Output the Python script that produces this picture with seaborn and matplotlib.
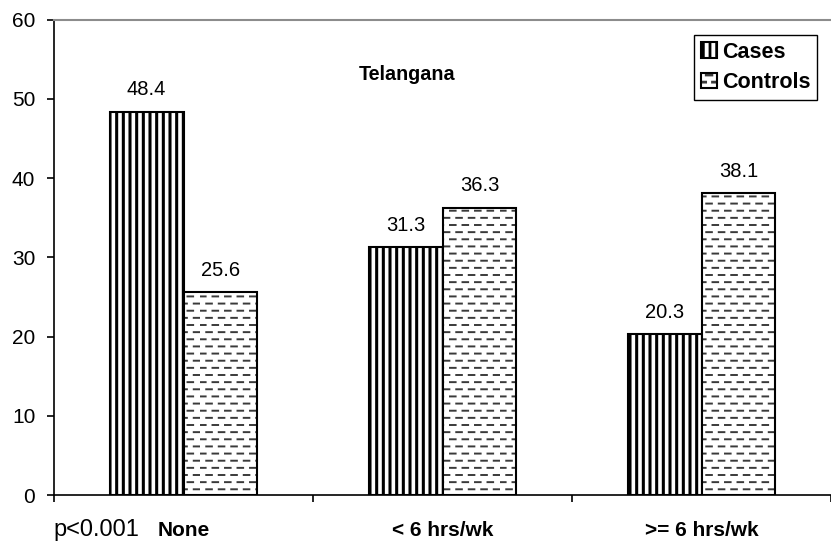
import warnings
import numpy as np
import pandas as pd
import matplotlib
matplotlib.use("Agg")
import matplotlib.pyplot as plt
from matplotlib import hatch as mhatch
from matplotlib.colors import to_rgba
from matplotlib.path import Path
import seaborn as sns

warnings.filterwarnings("ignore")

# Data
categories = ["None", "< 6 hrs/wk", ">= 6 hrs/wk"]
cases = [48.4, 31.3, 20.3]
controls = [25.6, 36.3, 38.1]
groups = ["Cases", "Controls"]


# Excel-like fill patterns: dense vertical stripes ('!') and staggered dashes ('_')
class StripeHatch(mhatch.HatchPatternBase):
    def __init__(self, hatch, density):
        self.num_lines = hatch.count("!") * 15
        self.num_vertices = self.num_lines * 2

    def set_vertices_and_codes(self, vertices, codes):
        xs = (np.arange(self.num_lines) + 0.5) / max(self.num_lines, 1)
        vertices[0::2, 0] = xs
        vertices[0::2, 1] = 0.0
        vertices[1::2, 0] = xs
        vertices[1::2, 1] = 1.0
        codes[0::2] = Path.MOVETO
        codes[1::2] = Path.LINETO


class DashHatch(mhatch.HatchPatternBase):
    def __init__(self, hatch, density):
        self.num_rows = hatch.count("_") * 14
        self.num_dashes = 8
        self.num_vertices = self.num_rows * self.num_dashes * 2

    def set_vertices_and_codes(self, vertices, codes):
        step = 1.0 / self.num_dashes
        k = 0
        for i in range(self.num_rows):
            y = (i + 0.5) / self.num_rows
            shift = step / 2 if i % 2 else 0.0
            for j in range(self.num_dashes):
                x0 = j * step + shift
                vertices[k] = (x0, y)
                vertices[k + 1] = (x0 + step * 0.45, y)
                codes[k] = Path.MOVETO
                codes[k + 1] = Path.LINETO
                k += 2


mhatch._hatch_types.extend([StripeHatch, DashHatch])

df = pd.DataFrame({
    "category": categories * 2,
    "value": cases + controls,
    "group": [groups[0]] * 3 + [groups[1]] * 3,
})

sns.set_style("ticks")
plt.rcParams["font.family"] = ["Liberation Sans", "DejaVu Sans"]
plt.rcParams["text.color"] = "black"
plt.rcParams["xtick.color"] = "black"
plt.rcParams["ytick.color"] = "black"
plt.rcParams["hatch.linewidth"] = 1.8
plt.rcParams["hatch.color"] = "black"

fig = plt.figure(figsize=(8.31, 5.45), dpi=100)
ax = fig.add_axes([0.065, 0.0917, 0.935, 0.872])

sns.barplot(data=df, x="category", y="value", hue="group", order=categories,
            hue_order=groups, palette=["white", "white"], edgecolor="black",
            linewidth=1.5, width=0.571, ax=ax, legend=False)

for cont, h, hlw, hcol in zip(ax.containers, ["!", "_"], [2.2, 1.4],
                              ["black", "#3a3a3a"]):
    for p in cont.patches:
        p.set_hatch(h)
        p.set_edgecolor("black")
        p._hatch_color = to_rgba(hcol)
        if hasattr(p, "set_hatch_linewidth"):
            p.set_hatch_linewidth(hlw)
    ax.bar_label(cont, fmt="%.1f", padding=9, fontsize=14.5)

ax.set_ylim(0, 60)
ax.set_xlim(-0.5, 2.5)
ax.set_yticks(range(0, 61, 10))
ax.tick_params(axis="y", labelsize=15, length=5, width=1.2, pad=8.5)

# boundary tick marks, category labels centred between them
ax.set_xticks([-0.5, 0.5, 1.5, 2.5])
ax.set_xticklabels([])
ax.set_xticks(range(len(categories)), minor=True)
ax.set_xticklabels(categories, minor=True, fontweight="bold", fontsize=15)
ax.tick_params(axis="x", which="major", length=5, width=1.2)
ax.tick_params(axis="x", which="minor", length=0, pad=19)
ax.set_xlabel("")
ax.set_ylabel("")

for s in ["left", "bottom"]:
    ax.spines[s].set_linewidth(1.2)
    ax.spines[s].set_color("black")
ax.spines["right"].set_visible(False)
ax.spines["top"].set_color("#8c8c8c")
ax.spines["top"].set_linewidth(1.5)

ax.text(0.454, 0.884, "Telangana", transform=ax.transAxes, ha="center",
        va="center", fontsize=14.2, fontweight="bold")

leg = ax.legend(ax.containers, groups, loc="upper right",
                bbox_to_anchor=(0.982, 0.968), borderaxespad=0,
                frameon=True, fancybox=False,
                edgecolor="black", framealpha=1, handlelength=0.75,
                handleheight=0.75, handletextpad=0.2, borderpad=0.32,
                labelspacing=0.42, prop={"weight": "bold", "size": 15.5})
leg.get_frame().set_linewidth(1.0)
for p in leg.get_patches():
    if hasattr(p, "set_hatch_linewidth"):
        p.set_hatch_linewidth(2.0)

fig.text(0.064, (545 - 530) / 545, "p<0.001", fontsize=17, va="center", ha="left")

fig.savefig("out.png", dpi=100)
